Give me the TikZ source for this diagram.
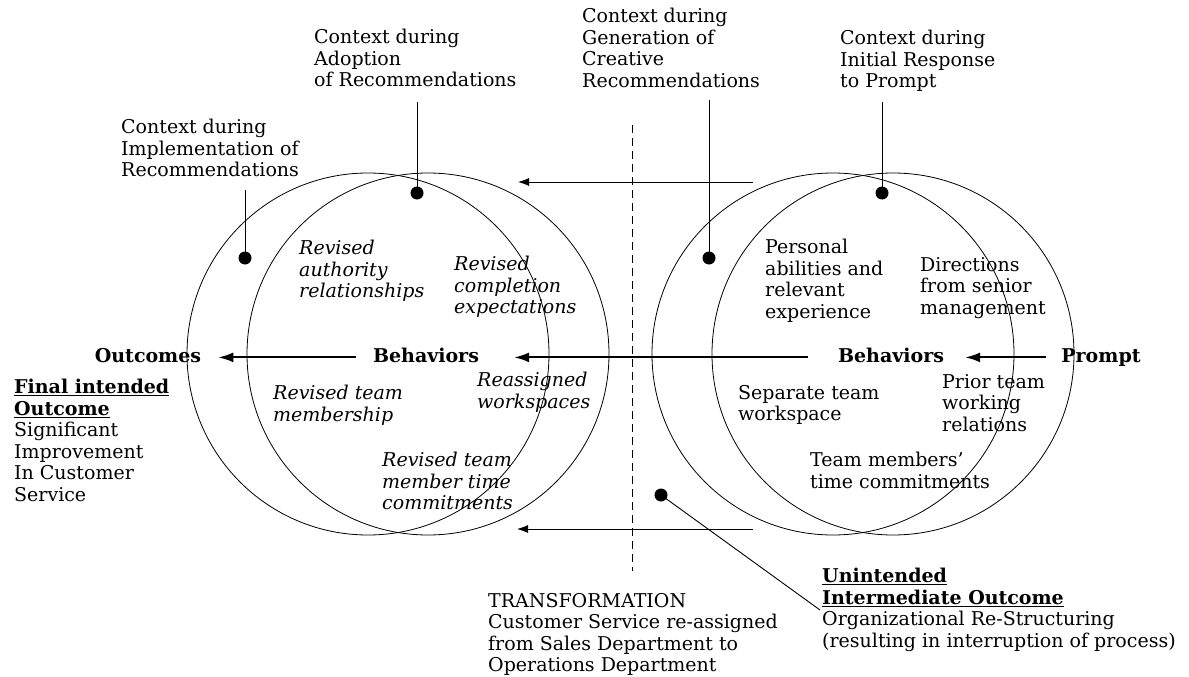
\documentclass[tikz,border=0pt]{standalone}
\usepackage{fontspec}
\setmainfont{DejaVu Serif}
\usetikzlibrary{arrows.meta}
\begin{document}
\begin{tikzpicture}[x=1pt,y=-1pt,
  txt/.style={anchor=north west, inner sep=0pt, align=left, font=\fontsize{19}{21.5}\selectfont},
  itx/.style={txt, font=\fontsize{19}{21.5}\selectfont\itshape},
  lbl/.style={anchor=base, inner sep=0pt, font=\fontsize{19}{21.5}\selectfont\bfseries},
  circ/.style={draw, line width=0.8pt},
  bigarrow/.style={line width=2pt, -{Latex[length=15pt,width=10pt]}},
  thinarrow/.style={line width=0.9pt, -{Latex[length=11pt,width=8pt]}},
  pin/.style={line width=0.9pt},
  dotc/.style={circle, fill, inner sep=0pt, minimum size=13pt},
  dashln/.style={line width=0.9pt, dash pattern=on 8pt off 5pt},
]
\useasboundingbox (0,0) rectangle (1189,677);
% circles
\draw[circ] (368,354) circle (181pt);
\draw[circ] (428,354) circle (181pt);
\draw[circ] (833,354) circle (181pt);
\draw[circ] (893,354) circle (181pt);
% dashed transformation line
\coordinate (dashT) at (632,125);
\coordinate (dashB) at (632,571);
\draw[dashln] (dashT) -- (dashB);
% context labels
\node[txt] (cImpl) at (121,119) {Context during\\Implementation of\\Recommendations};
\node[txt] (cAdopt) at (314,29) {Context during\\Adoption\\of Recommendations};
\node[txt] (cGen) at (582,8) {Context during\\Generation of\\Creative\\Recommendations};
\node[txt] (cInit) at (840,30) {Context during\\Initial Response\\to Prompt};
% dots and pins
\node[dotc] (dImpl) at (245,258) {};
\node[dotc] (dAdopt) at (417,193) {};
\node[dotc] (dGen) at (709,258) {};
\node[dotc] (dInit) at (882,193) {};
\coordinate (pImpl) at (245,190);
\coordinate (pAdopt) at (417,102);
\coordinate (pGen) at (709,100);
\coordinate (pInit) at (882,102);
\draw[pin] (pImpl) -- (dImpl.center);
\draw[pin] (pAdopt) -- (dAdopt.center);
\draw[pin] (pGen) -- (dGen.center);
\draw[pin] (pInit) -- (dInit.center);
% thin arrows
\coordinate (tA) at (753,182);
\coordinate (tB) at (518,182);
\coordinate (bA) at (753,529);
\coordinate (bB) at (517,529);
\draw[thinarrow] (tA) -- (tB);
\draw[thinarrow] (bA) -- (bB);
% main labels
\node[lbl] (outc) at (148,362) {Outcomes};
\node[lbl] (behL) at (426,362) {Behaviors};
\node[lbl] (behR) at (891,362) {Behaviors};
\node[lbl] (prompt) at (1101,362) {Prompt};
\draw[bigarrow] ([xshift=-17pt,yshift=2pt]behL.mid west) -- ([xshift=17pt,yshift=2pt]outc.mid east);
\draw[bigarrow] ([xshift=-30pt,yshift=2pt]behR.mid west) -- ([xshift=35pt,yshift=2pt]behL.mid east);
\draw[bigarrow] ([xshift=-15pt,yshift=2pt]prompt.mid west) -- ([xshift=21pt,yshift=2pt]behR.mid east);
% left circle texts
\node[itx] (rAuth) at (299,240) {Revised\\authority\\relationships};
\node[itx] (rComp) at (454,256) {Revised\\completion\\expectations};
\node[itx] (rTeam) at (273,385) {Revised team\\membership};
\node[itx] (rWork) at (477,372) {Reassigned\\workspaces};
\node[itx] (rTime) at (382,452) {Revised team\\member time\\commitments};
% right circle texts
\node[txt] (pers) at (765,239) {Personal\\abilities and\\relevant\\experience};
\node[txt] (dirs) at (920,257) {Directions\\from senior\\management};
\node[txt] (sepw) at (738,385) {Separate team\\workspace};
\node[txt] (prior) at (942,374) {Prior team\\working\\relations};
\node[txt] (tmtc) at (810,452) {Team members'\\time commitments};
% outcomes
\node[txt] (final) at (14,379) {\textbf{\underline{Final intended}}\\\textbf{\underline{Outcome}}\\Significant\\Improvement\\In Customer\\Service};
\node[txt] (trans) at (488,593) {TRANSFORMATION\\Customer Service re-assigned\\from Sales Department to\\Operations Department};
\node[txt] (unint) at (822,568) {\textbf{\underline{Unintended}}\\\textbf{\underline{Intermediate Outcome}}\\Organizational Re-Structuring\\(resulting in interruption of process)};
\node[dotc] (dUn) at (661,495) {};
\coordinate (pUn) at (820,610);
\draw[pin] (dUn.center) -- (pUn);
\end{tikzpicture}
\end{document}
